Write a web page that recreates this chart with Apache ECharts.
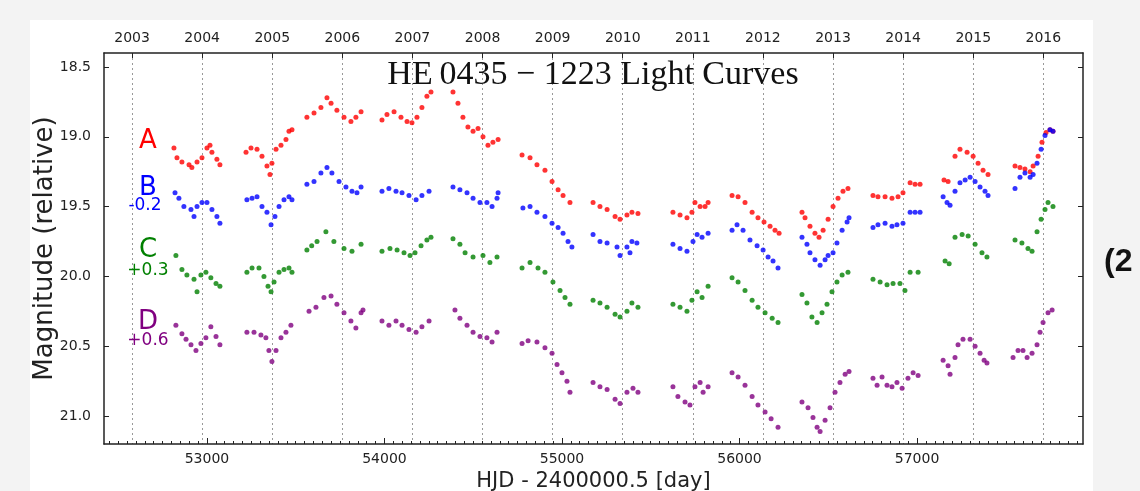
<!DOCTYPE html>
<html lang="en">
<head>
    <meta charset="UTF-8">
    <title>HE 0435 - 1223 Light Curves</title>
    <script src="https://cdn.jsdelivr.net/npm/echarts@6/dist/echarts.min.js"></script>
    <style>
        html, body { margin: 0; padding: 0; background: #f3f3f3; }
        #panel { position: absolute; left: 30px; top: 20px; width: 1063px; height: 471px; background: #fff; }
        #chart { position: absolute; left: 0; top: 0; width: 1140px; height: 491px; }
    </style>
</head>
<body>
    <div id="panel"></div>
    <div id="chart"></div>

    <script>
        // tick positions
        var xTicks = [53000, 54000, 55000, 56000, 57000];
        var yearTicks = [2003, 2004, 2005, 2006, 2007, 2008, 2009, 2010, 2011, 2012, 2013, 2014, 2015, 2016];
        var yTicks = [18.5, 19.0, 19.5, 20.0, 20.5, 21.0];

        // [HJD - 2400000.5, magnitude]
        var imageA = [
            [52814,19.08],[52831,19.15],[52859,19.18],[52899,19.20],[52915,19.22],[52944,19.18],[52972,19.15],[53000,19.08],[53017,19.06],[53028,19.11],[53056,19.16],[53073,19.20],
            [53220,19.11],[53248,19.08],[53282,19.09],[53310,19.14],[53338,19.21],[53355,19.27],[53366,19.19],[53389,19.09],[53417,19.06],[53445,19.02],[53462,18.96],[53479,18.95],
            [53563,18.86],[53603,18.83],[53642,18.79],[53676,18.72],[53699,18.76],[53732,18.81],[53772,18.86],[53811,18.89],[53839,18.86],[53868,18.82],
            [53986,18.88],[54014,18.84],[54054,18.82],[54093,18.86],[54127,18.89],[54155,18.90],[54183,18.86],[54211,18.79],[54239,18.71],[54262,18.68],
            [54386,18.68],[54414,18.76],[54442,18.86],[54470,18.93],[54499,18.96],[54527,18.94],[54555,19.00],[54583,19.06],[54611,19.04],[54640,19.02],
            [54775,19.13],[54820,19.15],[54859,19.20],[54904,19.24],[54944,19.32],[54978,19.38],[55006,19.42],[55045,19.47],
            [55175,19.47],[55214,19.50],[55254,19.52],[55299,19.57],[55327,19.59],[55366,19.56],[55394,19.54],[55428,19.55],
            [55625,19.54],[55665,19.56],[55704,19.58],[55732,19.54],[55749,19.47],[55778,19.50],[55806,19.50],[55823,19.47],
            [55958,19.42],[55992,19.43],[56031,19.47],[56071,19.54],[56104,19.58],[56138,19.61],[56172,19.64],[56200,19.67],[56223,19.69],
            [56352,19.54],[56369,19.58],[56397,19.64],[56425,19.69],[56448,19.72],[56471,19.67],[56499,19.59],[56527,19.50],[56555,19.44],[56583,19.39],[56611,19.37],
            [56752,19.42],[56780,19.43],[56820,19.43],[56859,19.44],[56893,19.43],[56921,19.40],[56961,19.33],[56989,19.34],[57017,19.34],
            [57152,19.31],[57175,19.32],[57214,19.14],[57242,19.09],[57282,19.11],[57316,19.14],[57344,19.19],[57372,19.24],[57400,19.27],
            [57552,19.21],[57580,19.22],[57608,19.23],[57637,19.25],[57654,19.21],[57682,19.14],[57704,19.04],[57727,18.97],[57749,18.95],[57766,18.96]
        ];

        var imageB = [
            [52820,19.40],[52842,19.44],[52870,19.50],[52910,19.52],[52927,19.57],[52944,19.50],[52972,19.47],[53000,19.47],[53028,19.52],[53056,19.57],[53073,19.62],
            [53225,19.45],[53254,19.44],[53282,19.43],[53310,19.50],[53338,19.54],[53361,19.63],[53383,19.57],[53406,19.50],[53434,19.45],[53462,19.43],[53479,19.45],
            [53563,19.34],[53603,19.32],[53642,19.26],[53676,19.22],[53704,19.26],[53744,19.32],[53783,19.36],[53817,19.39],[53845,19.40],[53868,19.36],
            [53986,19.39],[54025,19.37],[54065,19.39],[54099,19.40],[54138,19.42],[54178,19.45],[54211,19.42],[54251,19.39],
            [54386,19.36],[54425,19.38],[54465,19.40],[54499,19.44],[54538,19.47],[54577,19.47],[54606,19.50],[54634,19.44],[54640,19.40],
            [54780,19.51],[54820,19.50],[54859,19.54],[54904,19.57],[54944,19.62],[54978,19.65],[55006,19.69],[55034,19.75],[55056,19.79],
            [55175,19.70],[55214,19.75],[55254,19.76],[55310,19.79],[55327,19.85],[55366,19.79],[55383,19.83],[55394,19.75],[55422,19.76],
            [55625,19.77],[55665,19.80],[55704,19.82],[55738,19.75],[55761,19.70],[55789,19.72],[55823,19.69],
            [55958,19.67],[55986,19.63],[56020,19.67],[56059,19.74],[56099,19.78],[56133,19.81],[56161,19.86],[56189,19.89],[56217,19.94],
            [56352,19.72],[56380,19.77],[56397,19.83],[56425,19.88],[56454,19.92],[56482,19.88],[56499,19.85],[56527,19.83],[56549,19.76],[56578,19.67],[56606,19.61],[56617,19.58],
            [56752,19.65],[56780,19.63],[56820,19.62],[56859,19.64],[56887,19.63],[56921,19.62],[56961,19.54],[56989,19.54],[57017,19.54],
            [57147,19.43],[57169,19.47],[57186,19.49],[57214,19.39],[57242,19.33],[57271,19.31],[57299,19.29],[57327,19.32],[57355,19.36],[57383,19.39],[57400,19.42],
            [57552,19.37],[57580,19.29],[57608,19.26],[57637,19.29],[57654,19.27],[57676,19.19],[57699,19.09],[57721,18.99],[57749,18.95],[57766,18.96]
        ];

        var imageC = [
            [52825,19.85],[52859,19.95],[52887,19.99],[52927,20.02],[52944,20.11],[52966,19.99],[52994,19.97],[53022,20.01],[53051,20.05],[53073,20.07],
            [53225,19.97],[53254,19.94],[53293,19.94],[53321,20.00],[53344,20.07],[53361,20.11],[53378,20.04],[53406,19.97],[53434,19.95],[53462,19.94],[53479,19.97],
            [53563,19.81],[53590,19.78],[53620,19.75],[53670,19.68],[53715,19.75],[53772,19.80],[53817,19.82],[53868,19.77],
            [53986,19.82],[54031,19.80],[54071,19.81],[54110,19.83],[54144,19.85],[54172,19.83],[54206,19.78],[54239,19.74],[54262,19.72],
            [54386,19.73],[54425,19.77],[54454,19.83],[54499,19.86],[54555,19.85],[54594,19.90],[54634,19.86],
            [54775,19.94],[54820,19.90],[54865,19.94],[54904,19.97],[54949,20.04],[54989,20.10],[55017,20.15],[55045,20.20],
            [55175,20.17],[55214,20.19],[55254,20.22],[55299,20.27],[55327,20.29],[55366,20.25],[55394,20.19],[55428,20.22],
            [55625,20.20],[55665,20.22],[55704,20.25],[55732,20.17],[55761,20.11],[55789,20.15],[55823,20.07],
            [55958,20.01],[55992,20.04],[56031,20.10],[56071,20.17],[56104,20.22],[56144,20.26],[56184,20.30],[56217,20.33],
            [56352,20.13],[56380,20.19],[56408,20.29],[56437,20.33],[56465,20.26],[56493,20.20],[56521,20.11],[56549,20.04],[56578,19.99],[56611,19.97],
            [56752,20.02],[56792,20.04],[56831,20.06],[56865,20.05],[56904,20.05],[56932,20.10],[56961,19.97],[57006,19.97],
            [57158,19.89],[57181,19.91],[57214,19.72],[57254,19.70],[57288,19.71],[57327,19.77],[57366,19.83],[57394,19.86],
            [57552,19.74],[57591,19.76],[57625,19.80],[57648,19.82],[57676,19.68],[57699,19.59],[57721,19.52],[57738,19.47],[57766,19.50]
        ];

        var imageD = [
            [52825,20.35],[52859,20.41],[52882,20.45],[52910,20.49],[52938,20.53],[52966,20.48],[52994,20.44],[53022,20.36],[53051,20.43],[53073,20.49],
            [53225,20.40],[53265,20.40],[53304,20.42],[53332,20.44],[53349,20.53],[53366,20.61],[53389,20.53],[53417,20.44],[53445,20.40],[53473,20.35],
            [53575,20.25],[53614,20.22],[53659,20.15],[53699,20.14],[53732,20.20],[53772,20.26],[53811,20.32],[53839,20.37],[53868,20.26],[53879,20.24],
            [53986,20.32],[54025,20.35],[54065,20.32],[54099,20.35],[54138,20.38],[54178,20.40],[54211,20.36],[54251,20.32],
            [54397,20.24],[54425,20.30],[54465,20.35],[54499,20.40],[54538,20.43],[54577,20.44],[54606,20.47],[54634,20.40],
            [54775,20.48],[54809,20.46],[54859,20.47],[54904,20.51],[54944,20.55],[54972,20.63],[55000,20.69],[55028,20.75],[55045,20.83],
            [55175,20.76],[55214,20.79],[55254,20.81],[55299,20.88],[55327,20.91],[55366,20.83],[55400,20.80],[55428,20.83],
            [55625,20.79],[55653,20.86],[55693,20.90],[55721,20.92],[55749,20.79],[55778,20.76],[55795,20.83],[55823,20.79],
            [55958,20.69],[55992,20.72],[56031,20.78],[56071,20.86],[56104,20.92],[56144,20.97],[56178,21.02],[56217,21.08],
            [56352,20.90],[56386,20.94],[56414,21.01],[56437,21.08],[56454,21.11],[56482,21.03],[56510,20.94],[56538,20.83],[56566,20.76],[56595,20.70],[56617,20.68],
            [56752,20.73],[56775,20.78],[56803,20.72],[56831,20.78],[56859,20.79],[56887,20.76],[56916,20.80],[56949,20.73],[56978,20.69],[57006,20.71],
            [57147,20.60],[57175,20.64],[57186,20.70],[57214,20.58],[57231,20.49],[57259,20.45],[57299,20.45],[57327,20.50],[57355,20.55],[57378,20.60],[57394,20.62],
            [57541,20.58],[57569,20.53],[57597,20.53],[57620,20.58],[57648,20.55],[57676,20.49],[57693,20.40],[57710,20.33],[57738,20.26],[57761,20.24]
        ];

        var xMin = 52420, xMax = 57935;
        var minorTicks = [];
        for (var t = 52450; t < xMax; t += 50) minorTicks.push(t);

        var ink = '#222';
        var tickFont = { fontSize: 14, color: ink, fontFamily: 'DejaVu Sans' };

        var myChart = echarts.init(document.getElementById('chart'), null, { renderer: 'canvas' });

        function labelText(text, x, y, size, color) {
            return {
                type: 'text', x: x, y: y, z: 100,
                style: { text: text, fill: color, fontSize: size, fontFamily: 'DejaVu Sans', align: 'center', verticalAlign: 'middle' }
            };
        }

        var option = {
            backgroundColor: 'transparent',
            animation: false,
            grid: { left: 104, right: 57, top: 53, bottom: 47, outerBoundsMode: 'none' },
            xAxis: [
                {
                    type: 'value', position: 'bottom', min: xMin, max: xMax,
                    axisLine: { lineStyle: { color: ink, width: 1.5 } },
                    axisTick: { inside: true, length: 6, customValues: xTicks, lineStyle: { color: ink } },
                    axisLabel: Object.assign({ customValues: xTicks, margin: 8, formatter: function (v) { return String(v); } }, tickFont),
                    splitLine: { show: false },
                    name: 'HJD - 2400000.5 [day]', nameLocation: 'middle', nameGap: 27, nameMoveOverlap: false,
                    nameTextStyle: { fontSize: 21, color: ink, fontFamily: 'DejaVu Sans' }
                },
                {
                    type: 'value', position: 'top', min: 2002.6, max: 2016.566,
                    axisLine: { lineStyle: { color: ink, width: 1.5 } },
                    axisTick: { inside: true, length: 5, customValues: yearTicks, lineStyle: { color: ink } },
                    axisLabel: Object.assign({ customValues: yearTicks, margin: 8, formatter: function (v) { return String(v); } }, tickFont),
                    splitLine: { show: true, lineStyle: { color: '#999', width: 1, type: [2, 3] } }
                },
                {
                    type: 'value', position: 'bottom', min: xMin, max: xMax,
                    axisLine: { show: false },
                    axisTick: { inside: true, length: 3, customValues: minorTicks, lineStyle: { color: ink } },
                    axisLabel: { show: false },
                    splitLine: { show: false }
                }
            ],
            yAxis: [
                {
                    type: 'value', inverse: true, min: 18.4, max: 21.2, position: 'left',
                    axisLine: { lineStyle: { color: ink, width: 1.5 } },
                    axisTick: { inside: true, length: 5, customValues: yTicks, lineStyle: { color: ink } },
                    axisLabel: Object.assign({ customValues: yTicks, margin: 13, formatter: function (v) { return v.toFixed(1); } }, tickFont),
                    splitLine: { show: false },
                    name: 'Magnitude (relative)', nameLocation: 'middle', nameGap: 46, nameRotate: 90, nameMoveOverlap: false,
                    nameTextStyle: { fontSize: 26, color: ink, fontFamily: 'DejaVu Sans' }
                },
                {
                    type: 'value', inverse: true, min: 18.4, max: 21.2, position: 'right',
                    axisLine: { lineStyle: { color: ink, width: 1.5 } },
                    axisTick: { inside: true, length: 5, customValues: yTicks, lineStyle: { color: ink } },
                    axisLabel: { show: false },
                    splitLine: { show: false }
                }
            ],
            series: [
                { name: 'A', type: 'scatter', data: imageA, symbolSize: 5, itemStyle: { color: '#ff0000' } },
                { name: 'B', type: 'scatter', data: imageB, symbolSize: 5, itemStyle: { color: '#0000ff' } },
                { name: 'C', type: 'scatter', data: imageC, symbolSize: 5, itemStyle: { color: '#008000' } },
                { name: 'D', type: 'scatter', data: imageD, symbolSize: 5, itemStyle: { color: '#800080' } }
            ],
            graphic: [
                {
                    type: 'text', x: 593, y: 75, z: 100,
                    style: { text: 'HE\u20090435 \u2212 1223 Light Curves', fill: '#111', fontSize: 34, fontFamily: 'Liberation Serif', align: 'center', verticalAlign: 'middle' }
                },
                labelText('A', 148, 141, 26, '#ff0000'),
                labelText('B', 148, 188, 26, '#0000ff'),
                labelText('-0.2', 145, 206, 17, '#0000ff'),
                labelText('C', 148, 250, 26, '#008000'),
                labelText('+0.3', 148, 271, 17, '#008000'),
                labelText('D', 148, 322, 26, '#800080'),
                labelText('+0.6', 148, 341, 17, '#800080'),
                {
                    type: 'text', x: 1104, y: 262, z: 100,
                    style: { text: '(2', fill: '#111', fontSize: 32, fontWeight: 'bold', fontFamily: 'Liberation Sans', align: 'left', verticalAlign: 'middle' }
                }
            ]
        };

        myChart.setOption(option);
    </script>
</body>
</html>
